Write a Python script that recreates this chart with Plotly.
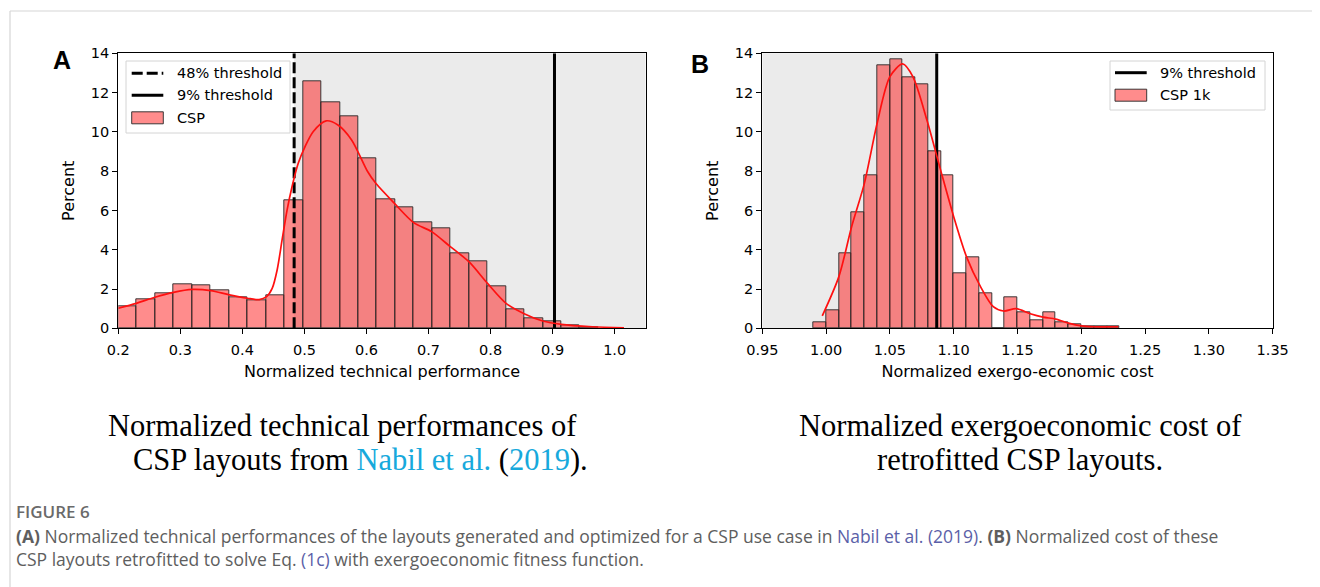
import plotly.graph_objects as go
from plotly.subplots import make_subplots

# the page body adds an 8px margin, so the figure is laid out in page pixels
# and shifted by that offset
PAGE_W, PAGE_H = 1320, 587
OFF = 8
W, H = PAGE_W - OFF, PAGE_H - OFF

# Panel A - normalized technical performance (percent per bin)
a_bin_start = 0.2
a_bin_width = 0.02975
a_percent = [1.10, 1.48, 1.78, 2.24, 2.20, 1.95, 1.56, 1.44, 1.66, 6.50,
             12.56, 11.49, 10.78, 8.66, 6.58, 6.18, 5.40, 5.09, 3.80, 3.41,
             2.12, 0.97, 0.52, 0.36, 0.14, 0.05]
a_kde_x = [0.200, 0.229, 0.259, 0.289, 0.319, 0.349, 0.379, 0.408, 0.427,
           0.439, 0.448, 0.456, 0.464, 0.472, 0.480, 0.490, 0.501, 0.514,
           0.535, 0.554, 0.576, 0.602, 0.615, 0.645, 0.676, 0.705, 0.735,
           0.765, 0.795, 0.825, 0.855, 0.884, 0.914, 0.964, 1.015]
a_kde_y = [1.02, 1.27, 1.58, 1.83, 1.98, 1.92, 1.70, 1.53, 1.46,
           1.61, 2.03, 2.97, 4.50, 6.02, 7.21, 8.40, 9.25, 10.01,
           10.56, 10.35, 9.59, 7.97, 7.38, 6.36, 5.38, 4.92, 4.16,
           3.39, 2.29, 1.27, 0.73, 0.37, 0.20, 0.08, 0.02]
a_thr_48 = 0.4834
a_thr_9 = 0.903
a_xrange = [0.2, 1.05]

# Panel B - normalized exergo-economic cost
b_bin_start = 0.99
b_bin_width = 0.01
b_percent = [0.3, 0.9, 3.8, 5.9, 7.8, 13.4, 13.7, 12.8, 12.4, 9.0,
             7.8, 2.8, 3.6, 1.8, 0.0, 1.6, 0.8, 0.4, 0.8, 0.3,
             0.2, 0.1, 0.1, 0.1]
b_kde_x = [0.997, 1.010, 1.020, 1.030, 1.040, 1.050, 1.060, 1.068, 1.079,
           1.089, 1.100, 1.110, 1.121, 1.131, 1.139, 1.149, 1.160, 1.170,
           1.180, 1.190, 1.200, 1.210, 1.229]
b_kde_y = [0.63, 2.63, 5.17, 7.38, 10.44, 12.81, 13.46, 12.81, 10.60,
           8.23, 5.68, 3.65, 2.12, 1.10, 0.88, 1.00, 0.74, 0.57,
           0.47, 0.26, 0.12, 0.08, 0.08]
b_thr_9 = 1.0867
b_xrange = [0.95, 1.35]

y_range = [0, 14]

BAR_FILL = 'rgba(255,0,0,0.45)'
BAR_EDGE = 'rgba(40,40,40,0.9)'
SHADE = '#ebebeb'
TICK_FONT = dict(family='DejaVu Sans', size=14.5, color='black')
LABEL_FONT = dict(family='DejaVu Sans', size=16, color='black')


def px(x):
    return (x - OFF) / W


def py(y):
    return 1 - (y - OFF) / H


fig = make_subplots(rows=1, cols=2)

# histogram bars
for col, start, width, vals in [(1, a_bin_start, a_bin_width, a_percent),
                                (2, b_bin_start, b_bin_width, b_percent)]:
    centers = [start + width * (i + 0.5) for i in range(len(vals))]
    fig.add_trace(go.Bar(x=centers, y=vals, width=width,
                         marker=dict(color=BAR_FILL, line=dict(color=BAR_EDGE, width=1)),
                         showlegend=False), row=1, col=col)

# threshold lines
fig.add_trace(go.Scatter(x=[a_thr_48, a_thr_48], y=y_range, mode='lines',
                         line=dict(color='black', width=3, dash='11px,4px'),
                         showlegend=False), row=1, col=1)
fig.add_trace(go.Scatter(x=[a_thr_9, a_thr_9], y=y_range, mode='lines',
                         line=dict(color='black', width=3), showlegend=False), row=1, col=1)
fig.add_trace(go.Scatter(x=[b_thr_9, b_thr_9], y=y_range, mode='lines',
                         line=dict(color='black', width=3), showlegend=False), row=1, col=2)

# kde curves
fig.add_trace(go.Scatter(x=a_kde_x, y=a_kde_y, mode='lines',
                         line=dict(color='#ff1010', width=1.7, shape='spline', smoothing=0.8),
                         showlegend=False), row=1, col=1)
fig.add_trace(go.Scatter(x=b_kde_x, y=b_kde_y, mode='lines',
                         line=dict(color='#ff1010', width=1.7, shape='spline', smoothing=0.8),
                         showlegend=False), row=1, col=2)

# shaded regions
fig.add_shape(type='rect', xref='x', yref='y domain', x0=a_thr_48, x1=a_xrange[1],
              y0=0, y1=1, fillcolor=SHADE, line_width=0, layer='below')
fig.add_shape(type='rect', xref='x2', yref='y2 domain', x0=b_xrange[0], x1=b_thr_9,
              y0=0, y1=1, fillcolor=SHADE, line_width=0, layer='below')

axis_common = dict(showline=True, mirror=True, linecolor='black', linewidth=1.3,
                   ticks='outside', ticklen=5, tickwidth=1.3, tickcolor='black',
                   showgrid=False, zeroline=False, tickfont=TICK_FONT, automargin=False)

y_dom = [py(328.3), py(53.3)]
fig.update_xaxes(domain=[px(118.3), px(645.7)], range=a_xrange, tick0=0.2, dtick=0.1,
                 tickformat='.1f', ticklabelstandoff=3,
                 title=dict(text='Normalized technical performance', font=LABEL_FONT, standoff=8),
                 **axis_common, row=1, col=1)
fig.update_xaxes(domain=[px(762.3), px(1272.7)], range=b_xrange, tick0=0.95, dtick=0.05,
                 tickformat='.2f', ticklabelstandoff=3,
                 title=dict(text='Normalized exergo-economic cost', font=LABEL_FONT, standoff=8),
                 **axis_common, row=1, col=2)
fig.update_yaxes(domain=y_dom, range=y_range, dtick=2,
                 title=dict(text='Percent', font=LABEL_FONT, standoff=12),
                 **axis_common, row=1, col=1)
fig.update_yaxes(domain=y_dom, range=y_range, dtick=2,
                 title=dict(text='Percent', font=LABEL_FONT, standoff=12),
                 **axis_common, row=1, col=2)

shapes = []
annotations = []


def legend_box(x0, y0, x1, y1, items, sx0, sx1, tx):
    shapes.append(dict(type='rect', xref='paper', yref='paper', x0=px(x0), x1=px(x1),
                       y0=py(y1), y1=py(y0), fillcolor='rgba(255,255,255,0.85)',
                       line=dict(color='#d4d4d4', width=1)))
    for kind, yc, label in items:
        if kind == 'patch':
            shapes.append(dict(type='rect', xref='paper', yref='paper', x0=px(sx0), x1=px(sx1),
                               y0=py(yc + 6), y1=py(yc - 6), fillcolor=BAR_FILL,
                               line=dict(color=BAR_EDGE, width=1)))
        else:
            shapes.append(dict(type='line', xref='paper', yref='paper', x0=px(sx0), x1=px(sx1),
                               y0=py(yc), y1=py(yc),
                               line=dict(color='black', width=3,
                                         dash='11px,4px' if kind == 'dash' else 'solid')))
        annotations.append(dict(x=px(tx), y=py(yc), xref='paper', yref='paper', text=label,
                                showarrow=False, xanchor='left', yanchor='middle',
                                font=dict(family='DejaVu Sans', size=14.5, color='black')))


legend_box(126, 61, 290, 133, [('dash', 73.3, '48% threshold'),
                               ('solid', 95.3, '9% threshold'),
                               ('patch', 117.8, 'CSP')], 131.7, 163.3, 175)
legend_box(1110, 61, 1265, 110, [('solid', 72.7, '9% threshold'),
                                 ('patch', 95.2, 'CSP 1k')], 1115, 1146.7, 1158)

# page border
shapes.append(dict(type='line', xref='paper', yref='paper', x0=px(10), x1=1,
                   y0=py(11), y1=py(11), line=dict(color='#d6d6d6', width=1.2)))
shapes.append(dict(type='line', xref='paper', yref='paper', x0=px(10), x1=px(10),
                   y0=0, y1=py(11), line=dict(color='#d6d6d6', width=1.2)))


def text(x, y, s, size, family, color='black', anchor='center', weight='normal'):
    annotations.append(dict(x=px(x), y=py(y), xref='paper', yref='paper', text=s,
                            showarrow=False, xanchor=anchor, yanchor='middle',
                            font=dict(family=family, size=size, color=color, weight=weight)))


text(62, 60, 'A', 25, 'Liberation Sans', weight='bold')
text(700, 64, 'B', 25, 'Liberation Sans', weight='bold')

CYAN = '#17a9dc'
SERIF = 'Liberation Serif'
text(343, 426, 'Normalized technical performances of', 30.5, SERIF)
text(360, 460, "CSP layouts from <span style='color:%s'>Nabil et al.</span> "
               "(<span style='color:%s'>2019</span>)." % (CYAN, CYAN), 30.5, SERIF)
text(1020, 426, 'Normalized exergoeconomic cost of', 30.5, SERIF)
text(1020, 460, 'retrofitted CSP layouts.', 30.5, SERIF)

GREY = '#5e5e5e'
LINK = '#5b5fa8'
CAP = 'Open Sans'
text(14, 511.5, 'FIGURE 6', 17, CAP, '#6a6a6a', 'left', weight=600)
text(14, 536, "<b>(A)</b> Normalized technical performances of the layouts generated and "
              "optimized for a CSP use case in <span style='color:%s'>Nabil et al. (2019)</span>. "
              "<b>(B)</b> Normalized cost of these" % LINK, 17.5, CAP, GREY, 'left')
text(14, 559, "CSP layouts retrofitted to solve Eq. <span style='color:%s'>(1c)</span> "
              "with exergoeconomic fitness function." % LINK, 17.5, CAP, GREY, 'left')

fig.update_layout(width=W, height=H, margin=dict(l=0, r=0, t=0, b=0, autoexpand=False),
                  paper_bgcolor='white', plot_bgcolor='white', bargap=0,
                  shapes=list(fig.layout.shapes) + shapes, annotations=annotations,
                  showlegend=False)

fig.write_html("out.html")
